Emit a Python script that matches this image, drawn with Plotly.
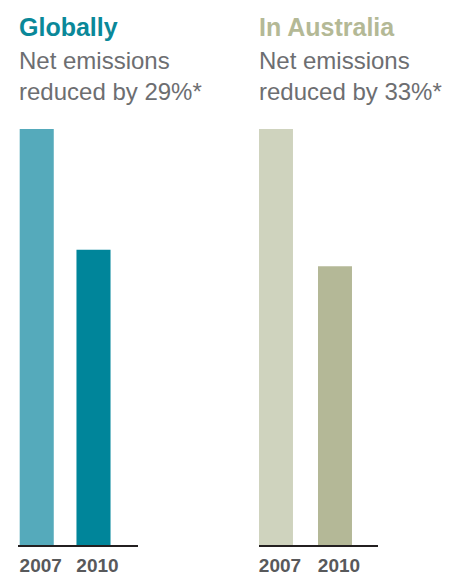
import plotly.graph_objects as go

# ---- data ----
categories = ["2007", "2010"]
global_values = [100, 71]
australia_values = [100, 67]

global_title = "Globally"
global_sub = ["Net emissions", "reduced by 29%*"]
aus_title = "In Australia"
aus_sub = ["Net emissions", "reduced by 33%*"]

# ---- style ----
W, H = 453, 573
FONT = "Liberation Sans"
teal_title = "#0A8899"
teal_colors = ["#55AABB", "#00859A"]
sage_title = "#B4B996"
sage_colors = ["#CFD3BE", "#B4B897"]
sub_color = "#6D6E71"
tick_color = "#58595B"

fig = go.Figure()
fig.add_trace(go.Bar(x=categories, y=global_values, marker=dict(color=teal_colors, line=dict(width=0)),
                     width=0.6, xaxis="x", yaxis="y", hoverinfo="skip"))
fig.add_trace(go.Bar(x=categories, y=australia_values, marker=dict(color=sage_colors, line=dict(width=0)),
                     width=0.576, xaxis="x2", yaxis="y2", hoverinfo="skip"))

def px_x(p):
    return p / W

def px_y(p):
    return 1 - p / H

ydom = [px_y(545), px_y(129)]
xcommon = dict(type="category", showgrid=False, zeroline=False, showline=True,
               linecolor="#231F20", linewidth=1.5, ticks="",
               tickfont=dict(family=FONT, size=19, color=tick_color, weight="bold"),
               ticklabelshift=4, ticklabelstandoff=2, fixedrange=True)
ycommon = dict(range=[0, 100], visible=False, domain=ydom, fixedrange=True)

fig.update_layout(
    width=W, height=H, autosize=False,
    margin=dict(l=0, r=0, t=0, b=0, pad=0, autoexpand=False),
    paper_bgcolor="white", plot_bgcolor="rgba(0,0,0,0)",
    showlegend=False,
    xaxis=dict(domain=[px_x(18), px_x(138)], range=[-0.33, 1.784], anchor="y", **xcommon),
    yaxis=dict(anchor="x", **ycommon),
    xaxis2=dict(domain=[px_x(259), px_x(378)], range=[-0.288, 1.729], anchor="y2", **xcommon),
    yaxis2=dict(anchor="x2", **ycommon),
)

def add_text(text, xp, yc, size, color, bold=False):
    fig.add_annotation(text=text, xref="paper", yref="paper", x=px_x(xp), y=px_y(yc),
                       xanchor="left", yanchor="middle", showarrow=False,
                       font=dict(family=FONT, size=size, color=color,
                                 weight="bold" if bold else "normal"))

add_text(global_title, 17, 27.5, 25, teal_title, bold=True)
add_text(global_sub[0], 17, 60.5, 24, sub_color)
add_text(global_sub[1], 17, 91.5, 24, sub_color)
add_text(aus_title, 257, 27.5, 25, sage_title, bold=True)
add_text(aus_sub[0], 257, 60.5, 24, sub_color)
add_text(aus_sub[1], 257, 91.5, 24, sub_color)

fig.write_html("out.html", config={"displayModeBar": False, "responsive": False},
               post_script="document.body.style.margin='0';document.body.style.overflow='hidden';")
